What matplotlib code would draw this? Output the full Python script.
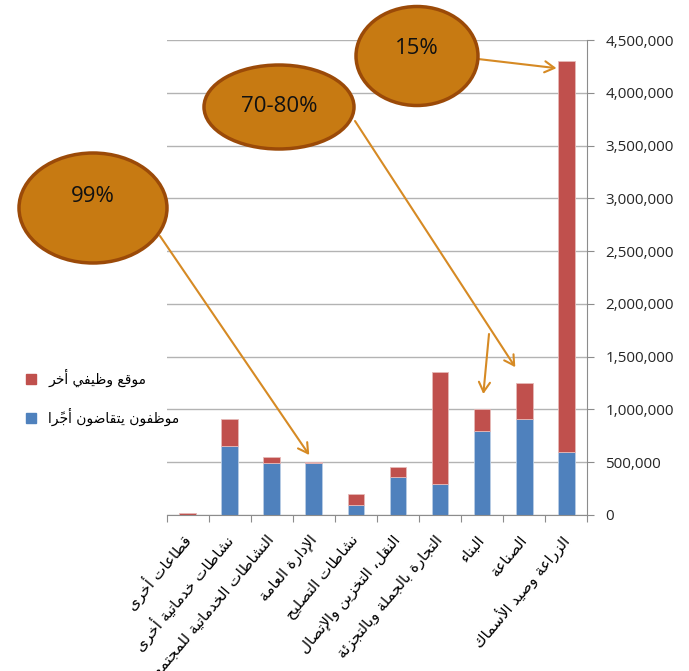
import matplotlib
matplotlib.use("Agg")
import matplotlib.pyplot as plt
from matplotlib.patches import Ellipse, Patch
from matplotlib.ticker import FuncFormatter, FixedLocator

# ---------------------------------------------------------------- data
sectors = [
    "قطاعات أخرى",
    "نشاطات خدماتية أخرى",
    "النشاطات الخدماتية للمجتمع",
    "الإدارة العامة",
    "نشاطات التصليح",
    "النقل، التخزين والإتصال",
    "التجارة بالجملة وبالتجزئة",
    "البناء",
    "الصناعة",
    "الزراعة وصيد الأسماك",
]
paid_employees = [0, 650000, 490000, 490000, 98000, 358000, 297000, 800000, 908000, 601000]
other_status = [22000, 258000, 57000, 13000, 105000, 95000, 1057000, 206000, 342000, 3699000]
series_names = ["موقع وظيفي أخر", "موظفون يتقاضون أجرًا"]
y_ticks = [0, 500000, 1000000, 1500000, 2000000, 2500000, 3000000, 3500000, 4000000, 4500000]
callout_texts = ["99%", "70-80%", "15%"]

# ------------------------------------------------- minimal Arabic shaping
# (isolated, final, initial, medial) presentation forms
_F = {
    '\u0621': ('\uFE80', None, None, None),
    '\u0622': ('\uFE81', '\uFE82', None, None),
    '\u0623': ('\uFE83', '\uFE84', None, None),
    '\u0624': ('\uFE85', '\uFE86', None, None),
    '\u0625': ('\uFE87', '\uFE88', None, None),
    '\u0626': ('\uFE89', '\uFE8A', '\uFE8B', '\uFE8C'),
    '\u0627': ('\uFE8D', '\uFE8E', None, None),
    '\u0628': ('\uFE8F', '\uFE90', '\uFE91', '\uFE92'),
    '\u0629': ('\uFE93', '\uFE94', None, None),
    '\u062A': ('\uFE95', '\uFE96', '\uFE97', '\uFE98'),
    '\u062B': ('\uFE99', '\uFE9A', '\uFE9B', '\uFE9C'),
    '\u062C': ('\uFE9D', '\uFE9E', '\uFE9F', '\uFEA0'),
    '\u062D': ('\uFEA1', '\uFEA2', '\uFEA3', '\uFEA4'),
    '\u062E': ('\uFEA5', '\uFEA6', '\uFEA7', '\uFEA8'),
    '\u062F': ('\uFEA9', '\uFEAA', None, None),
    '\u0630': ('\uFEAB', '\uFEAC', None, None),
    '\u0631': ('\uFEAD', '\uFEAE', None, None),
    '\u0632': ('\uFEAF', '\uFEB0', None, None),
    '\u0633': ('\uFEB1', '\uFEB2', '\uFEB3', '\uFEB4'),
    '\u0634': ('\uFEB5', '\uFEB6', '\uFEB7', '\uFEB8'),
    '\u0635': ('\uFEB9', '\uFEBA', '\uFEBB', '\uFEBC'),
    '\u0636': ('\uFEBD', '\uFEBE', '\uFEBF', '\uFEC0'),
    '\u0637': ('\uFEC1', '\uFEC2', '\uFEC3', '\uFEC4'),
    '\u0638': ('\uFEC5', '\uFEC6', '\uFEC7', '\uFEC8'),
    '\u0639': ('\uFEC9', '\uFECA', '\uFECB', '\uFECC'),
    '\u063A': ('\uFECD', '\uFECE', '\uFECF', '\uFED0'),
    '\u0641': ('\uFED1', '\uFED2', '\uFED3', '\uFED4'),
    '\u0642': ('\uFED5', '\uFED6', '\uFED7', '\uFED8'),
    '\u0643': ('\uFED9', '\uFEDA', '\uFEDB', '\uFEDC'),
    '\u0644': ('\uFEDD', '\uFEDE', '\uFEDF', '\uFEE0'),
    '\u0645': ('\uFEE1', '\uFEE2', '\uFEE3', '\uFEE4'),
    '\u0646': ('\uFEE5', '\uFEE6', '\uFEE7', '\uFEE8'),
    '\u0647': ('\uFEE9', '\uFEEA', '\uFEEB', '\uFEEC'),
    '\u0648': ('\uFEED', '\uFEEE', None, None),
    '\u0649': ('\uFEEF', '\uFEF0', None, None),
    '\u064A': ('\uFEF1', '\uFEF2', '\uFEF3', '\uFEF4'),
}
_LAM_ALEF = {'\u0622': ('\uFEF5', '\uFEF6'), '\u0623': ('\uFEF7', '\uFEF8'),
             '\u0625': ('\uFEF9', '\uFEFA'), '\u0627': ('\uFEFB', '\uFEFC')}


def _is_mark(c):
    return '\u064B' <= c <= '\u065F' or c == '\u0670' or '\u0610' <= c <= '\u061A'


def _dual(c):
    return c in _F and _F[c][2] is not None


def shape_ar(text):
    chars = list(text)
    n = len(chars)

    def prev_base(i):
        j = i - 1
        while j >= 0 and _is_mark(chars[j]):
            j -= 1
        return chars[j] if j >= 0 else None

    def next_base(i):
        j = i + 1
        while j < n and _is_mark(chars[j]):
            j += 1
        return (chars[j], j) if j < n else (None, None)

    clusters = []
    i = 0
    while i < n:
        c = chars[i]
        if _is_mark(c):
            if clusters:
                clusters[-1] += c
            else:
                clusters.append(c)
            i += 1
            continue
        if c not in _F:
            clusters.append(c)
            i += 1
            continue
        p = prev_base(i)
        jp = p is not None and _dual(p)
        nx, j = next_base(i)
        if c == '\u0644' and nx in _LAM_ALEF:
            clusters.append(_LAM_ALEF[nx][1 if jp else 0])
            i = j + 1
            continue
        jn = _dual(c) and nx is not None and nx in _F
        iso, fin, ini, med = _F[c]
        if jp and jn:
            g = med
        elif jp:
            g = fin
        elif jn:
            g = ini
        else:
            g = iso
        clusters.append(g)
        i += 1
    return ''.join(reversed(clusters))


# ---------------------------------------------------------------- figure
BLUE = "#4F81BD"
RED = "#C0504D"
GRID = "#B3B3B3"
AXIS = "#8C8C8C"
FILL = "#C77A12"
EDGE = "#9B4A08"
ARROW = "#D68A24"
W, H = 689, 671

fig = plt.figure(figsize=(W / 100, H / 100), dpi=100)
ax = fig.add_axes([166.7 / W, 1 - 515 / H, 420.5 / W, 475 / H])

x = list(range(len(sectors)))
ax.bar(x, paid_employees, width=0.4, color=BLUE, edgecolor="#B9CDE5", linewidth=0.6, zorder=3)
ax.bar(x, other_status, width=0.4, bottom=paid_employees, color=RED,
       edgecolor="#E6B9B8", linewidth=0.6, zorder=3)

ax.set_xlim(-0.5, len(sectors) - 0.5)
ax.set_ylim(0, 4500000)

# value axis on the right
ax.yaxis.tick_right()
ax.set_yticks(y_ticks)
ax.yaxis.set_major_formatter(FuncFormatter(lambda v, p: f"{int(v):,}"))
ax.tick_params(axis="y", which="major", direction="out", length=5, width=0.8,
               color=AXIS, pad=8, labelsize=11, labelcolor="#262626")
for lab in ax.get_yticklabels():
    lab.set_fontfamily("Open Sans")
ax.yaxis.grid(True, color=GRID, linewidth=1.0, zorder=0)
ax.set_axisbelow(True)

# category axis: labels at centres, tick marks between categories
ax.set_xticks(x)
ax.set_xticklabels([shape_ar(s) for s in sectors], rotation=50, ha="right",
                   va="center", rotation_mode="anchor", fontsize=11,
                   fontfamily="DejaVu Sans")
ax.tick_params(axis="x", which="major", length=0, pad=16)
ax.xaxis.set_minor_locator(FixedLocator([i - 0.5 for i in range(len(sectors) + 1)]))
ax.tick_params(axis="x", which="minor", direction="out", length=5, width=0.8, color=AXIS)

for side in ("top", "left"):
    ax.spines[side].set_visible(False)
ax.spines["bottom"].set_color(AXIS)
ax.spines["right"].set_color(AXIS)
ax.spines["bottom"].set_zorder(4)

# legend at the left
handles = [Patch(facecolor=RED, edgecolor=RED), Patch(facecolor=BLUE, edgecolor=BLUE)]
fig.legend(handles, [shape_ar(s) for s in series_names], loc="upper left",
           bbox_to_anchor=(26 / W, 1 - 369 / H), frameon=False, borderpad=0,
           borderaxespad=0, prop={"family": "DejaVu Sans", "size": 10},
           handlelength=0.7, handleheight=0.7, handletextpad=0.9, labelspacing=1.5)

# overlay in pixel coordinates for the call-outs
ov = fig.add_axes([0, 0, 1, 1], zorder=10)
ov.set_xlim(0, W)
ov.set_ylim(H, 0)
ov.axis("off")

callouts = [
    # (text, centre, size, text y, arrow start, arrow tip in data coords)
    (callout_texts[0], (93, 208), (148, 110), 197, [((160, 236), (2.89, 568000))]),
    (callout_texts[1], (279, 107), (150, 84), 106, [((355, 121), (7.79, 1400000)),
                                                    ((489, 334), (7.03, 1146000))]),
    (callout_texts[2], (417, 56), (122, 99), 49, [((478, 59), (8.77, 4233000))]),
]
for text, c, (w, h), ty, arrows in callouts:
    for start, tip in arrows:
        ov.annotate("", xy=tip, xycoords=ax.transData, xytext=start,
                    textcoords="data",
                    arrowprops=dict(arrowstyle="->,head_length=0.7,head_width=0.4",
                                    color=ARROW, lw=1.5, shrinkA=0, shrinkB=0))
    ov.add_patch(Ellipse(c, w, h, facecolor=FILL, edgecolor=EDGE, linewidth=2.5, zorder=5))
    ov.text(c[0], ty, text, ha="center", va="center", fontsize=16,
            fontfamily="Open Sans", color="#111111", zorder=6)

fig.savefig("out.png", dpi=100)
